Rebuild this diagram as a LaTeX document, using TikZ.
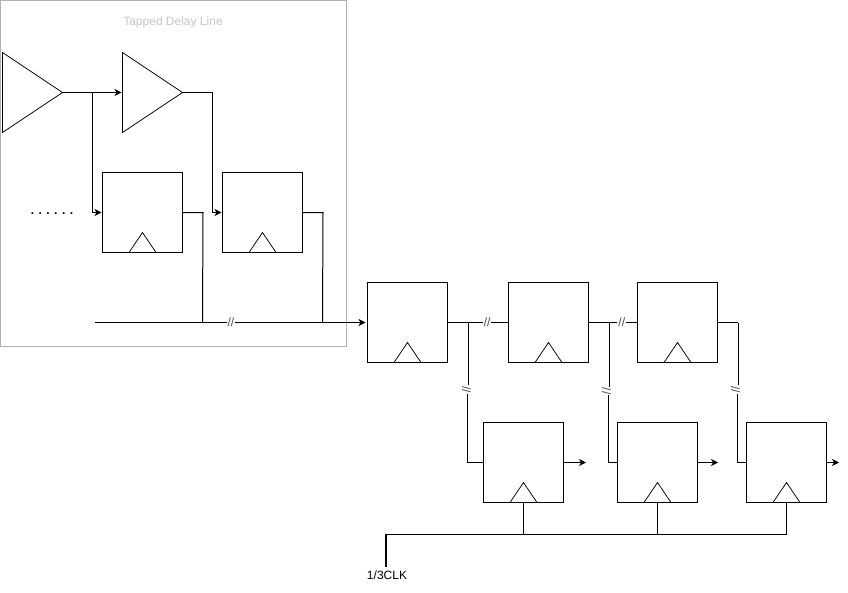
\documentclass[tikz,border=0pt]{standalone}
\usepackage{fontspec}
\setmainfont{Liberation Sans}
\usetikzlibrary{arrows.meta,positioning,shapes.geometric}

\begin{document}
\begin{tikzpicture}[x=1pt,y=-1pt,line width=1pt,font=\fontsize{12}{12}\selectfont,wire/.style={line width=1pt},feed/.style={wire,-{Stealth[length=7pt,width=7pt,inset=2pt]}},flop/.style={rectangle, draw=black, fill=white, minimum size=80pt, inner sep=0pt, outer sep=0pt},buffer/.style={isosceles triangle, isosceles triangle stretches, shape border rotate=0, draw=black, line width=0.75pt, fill=white, minimum width=80pt, minimum height=60pt, inner sep=0pt, outer sep=0pt, anchor=lower side},clocktip/.style={isosceles triangle, isosceles triangle stretches, shape border rotate=90, draw=black, line width=0.75pt, minimum width=27pt, minimum height=20pt, inner sep=0pt, outer sep=0pt, anchor=lower side},cut/.style={fill=white, inner sep=1pt, text=black!70},frame/.style={draw=black!30, minimum size=346pt, inner sep=0pt, outer sep=0pt}]
\useasboundingbox (0,0) rectangle (848,592);
\node[frame] (delayframe) at (173.5,173.5) {};
\node[text=black!22] (delaytitle) at (173,22) {Tapped Delay Line};
\node[buffer] (bufA) at (2.5,92.5) {};\node[buffer] (bufB) at (122.5,92.5) {};
\foreach \name/\x/\y in {ffA/142.5/212.5,ffB/262.5/212.5,regA/407.5/322.5,regB/548.5/322.5,regC/677.5/322.5,outA/523.5/462.5,outB/657.5/462.5,outC/786.5/462.5}{
\node[flop] (\name) at (\x,\y) {};\node[clocktip] (\name clk) at (\name.south) {};
}
\node[font=\fontsize{12}{12}\selectfont\bfseries] (dots) at (52,213.5) {. . . . . .};
\node (clklabel) at (387,575) {1/3CLK};
% named free ends and junctions
\coordinate (busstart) at (95,322.5);\coordinate (busA) at (202.5,322.5);\coordinate (busB) at (322.5,322.5);\coordinate (tapA) at (92.5,92.5);
\coordinate (forkA) at (468,322.5);\coordinate (forkB) at (609,322.5);\coordinate (forkC) at (738,322.5);
\coordinate (dropA) at (467.5,390);\coordinate (dropB) at (608.5,390);\coordinate (dropC) at (737.5,390);
\coordinate (clkupA) at (385.5,566.5);\coordinate (clkupB) at (386,566.5);\coordinate (clkA) at (523.5,534.5);\coordinate (clkB) at (657.5,534.5);\coordinate (clkC) at (786.5,534);
\coordinate (endA) at (586,462.5);\coordinate (endB) at (718,462.5);\coordinate (endC) at (839,462.5);
% tapped line
\draw[feed,shorten >=1pt] (bufA.apex) -- (bufB.lower side);\draw[feed,shorten >=1pt] (tapA) -- (tapA |- ffA.west) -- (ffA.west);
\draw[feed,shorten >=1pt] (bufB.apex) -- (212.5,92.5) -- (212.5,212.5) -- (ffB.west);
\draw[wire] (ffA.east) -- (203,212.5) -- (busA);\draw[wire] (ffB.east) -- (323,212.5) -- (busB);
\draw[feed,shorten >=2pt] (busstart) -- (regA.west) node[cut, pos=0.4985] (cutbus) {//};
% registers
\draw[wire] (regA.east) -- (regB.west) node[cut, pos=0.65] (cutA) {//};\draw[wire] (regB.east) -- (regC.west) node[cut, pos=0.68] (cutB) {//};\draw[wire] (regC.east) -- (forkC);
\draw[wire] (forkA) -- (forkA |- dropA);\draw[wire] (dropA) -- (dropA |- outA.west) -- (outA.west);\node[cut, rotate=-90] (cutC) at (466.5,389.5) {//};
\draw[wire] (forkB) -- (forkB |- dropB);\draw[wire] (dropB) -- (dropB |- outB.west) -- (outB.west);\node[cut, rotate=-90] (cutD) at (606.5,391) {//};
\draw[wire] (forkC) -- (forkC |- dropC);\draw[wire] (dropC) -- (dropC |- outC.west) -- (outC.west);\node[cut, rotate=-90] (cutE) at (735.5,389.5) {//};
\draw[feed] (outA.east) -- (endA);\draw[feed] (outB.east) -- (endB);\draw[feed] (outC.east) -- (endC);
% clock
\draw[wire] (clkupA) -- (clkupA |- clkB) -- (clkB) -- (outB.south);\draw[wire] (clkupB) -- (clkupB |- clkC) -- (clkC) -- (outC.south);\draw[wire] (clkA) -- (outA.south);
\end{tikzpicture}
\end{document}
